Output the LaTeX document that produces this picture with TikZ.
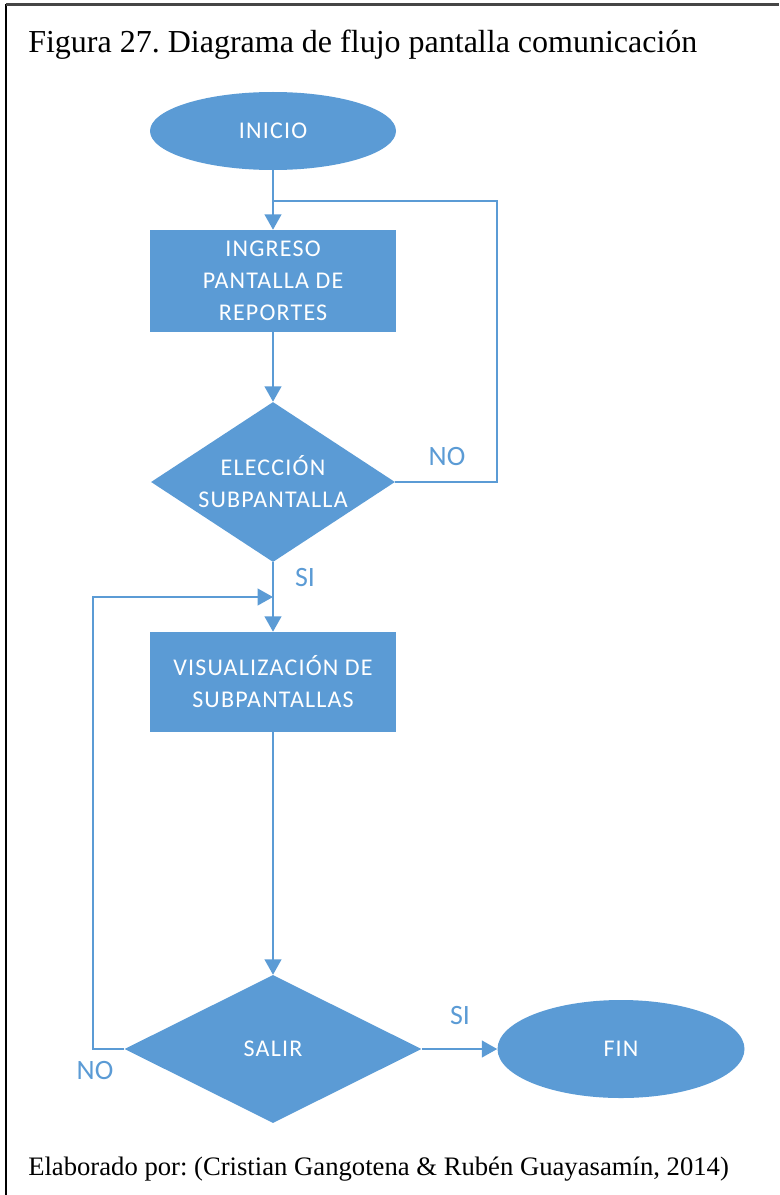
\documentclass[tikz,border=0pt]{standalone}
\usepackage{fontspec}
\setmainfont{Liberation Serif}
\newfontfamily\flowfont[LetterSpace=5]{Carlito}
\newfontfamily\branchfont{Carlito}
\usetikzlibrary{shapes.geometric,arrows.meta}
\definecolor{flowblue}{HTML}{5B9BD5}
\newcommand\pxu{0.75pt}
\frenchspacing

\tikzset{
  shapebase/.style={fill=flowblue, draw=none, inner sep=0pt},
  terminal/.style={shapebase, ellipse},
  process/.style={shapebase, rectangle},
  decision/.style={shapebase, diamond},
  flowtext/.style={font=\flowfont\fontsize{18}{24}\selectfont, text=white, align=center, inner sep=0pt},
  branch/.style={font=\branchfont\fontsize{21}{24}\selectfont, text=flowblue, inner sep=0pt},
  link/.style={draw=flowblue, line width=1.5pt},
  arrowlink/.style={link, -{Triangle[width=12.5pt,length=11.5pt]}},
}

\begin{document}
\begin{tikzpicture}[x=0.75pt,y=-0.75pt]
\useasboundingbox (0,0) rectangle (779,1195);

% page frame
\draw[line width=1.5pt, black] (5.5,1195) -- (5.5,4.5);
\draw[line width=2pt, gray!55!black] (5.5,4.5) -- (779,4.5);

% title and credit
\node[anchor=base west, inner sep=0pt, font=\fontsize{24}{28}\selectfont] (title) at (28,53)
  {Figura 27. Diagrama de flujo pantalla comunicación};
\node[anchor=base west, inner sep=0pt, font=\fontsize{20}{24}\selectfont] (credit) at (28,1175)
  {Elaborado por: (Cristian Gangotena \& Rubén Guayasamín, 2014)};

% flow shapes
\node[terminal, minimum width={246*\pxu}, minimum height={78*\pxu}] (inicio) at (273,131) {};
\node[flowtext] (inicioT) at (inicio) {INICIO};

\node[process, minimum width={246*\pxu}, minimum height={102*\pxu}] (ingreso) at (273,281) {};
\node[flowtext] (ingresoT) at (ingreso) {INGRESO\\PANTALLA DE\\REPORTES};

\node[decision, minimum width={244*\pxu}, minimum height={160*\pxu}] (eleccion) at (273,482) {};
\node[flowtext] (eleccionT) at (eleccion) {ELECCIÓN\\SUBPANTALLA};

\node[process, minimum width={246*\pxu}, minimum height={100*\pxu}] (visual) at (273,682) {};
\node[flowtext] (visualT) at (visual) {VISUALIZACIÓN DE\\SUBPANTALLAS};

\node[decision, minimum width={297*\pxu}, minimum height={148*\pxu}] (salir) at (273,1049) {};
\node[flowtext] (salirT) at (salir) {SALIR};

\node[terminal, minimum width={247*\pxu}, minimum height={98*\pxu}] (fin) at (621,1049) {};
\node[flowtext] (finT) at (fin) {FIN};

% junction points of the loops
\coordinate (loopA) at (273,201);
\coordinate (loopB) at (273,597);

% connectors
\draw[arrowlink] (inicio.south) -- (ingreso.north);
\draw[arrowlink] (ingreso.south) -- (eleccion.north);
\draw[link] (eleccion.east) -- (497,482) -- (497,201) -- (loopA);
\draw[arrowlink] (eleccion.south) -- (visual.north);
\draw[arrowlink] (visual.south) -- (salir.north);
\draw[arrowlink] (salir.west) -- (93,1049) -- (93,597) -- (loopB);
\draw[arrowlink] (salir.east) -- (fin.west);

% branch labels
\node[branch] (noA) at (447,457) {NO};
\node[branch] (siA) at (305,578) {SI};
\node[branch] (siB) at (460,1015) {SI};
\node[branch] (noB) at (95,1070) {NO};
\end{tikzpicture}
\end{document}
